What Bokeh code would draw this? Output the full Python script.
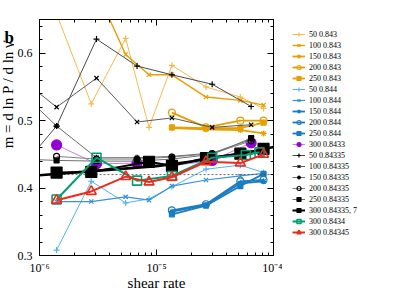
import math
from bokeh.plotting import figure
from bokeh.layouts import row
from bokeh.models import (Legend, LegendItem, Label, LogAxis, LinearAxis,
                          LogTicker, SingleIntervalTicker, CustomJSTickFormatter)
from bokeh.embed import file_html
from bokeh.resources import INLINE

# ---------------- data ----------------
XA = [1.4e-6, 2.77e-6, 5.45e-6, 8.63e-6, 1.355e-5, 2.65e-5, 5.21e-5, 8.22e-5]
XG = [7.0e-7, 1.4e-6, 3.07e-6, 6.82e-6, 1.355e-5, 2.99e-5, 6.44e-5]
XH = [1.355e-5, 2.65e-5, 5.21e-5, 8.22e-5]
XB = [1.4e-6, 2.77e-6, 8.63e-6, 1.355e-5, 2.65e-5, 5.21e-5, 8.22e-5]
XGR = [1.4e-6, 3.07e-6, 6.82e-6, 1.355e-5, 2.99e-5, 5.8e-5, 7.6e-5]
XFIT = [1e-6, 3e-6, 1e-5, 2e-5, 4e-5, 7e-5, 1e-4]
XREF = [1e-6, 1e-4]

y_50_843 = [0.658, 0.525, 0.622, 0.490, 0.582, 0.550, 0.535, 0.518]
y_100_843 = [0.710, 0.598, 0.568, 0.568, 0.535, 0.530, 0.523]
y_150_843 = [0.489, 0.487, 0.486, 0.481]
y_200_843 = [0.512, 0.490, 0.500, 0.500]
y_250_843 = [0.490, 0.489, 0.489, 0.497]
y_50_844 = [0.308, 0.410, 0.378, 0.384, 0.402, 0.428, 0.434, 0.423]
y_100_844 = [0.380, 0.380, 0.387, 0.382, 0.403, 0.412, 0.418, 0.422]
y_150_844 = [0.365, 0.375, 0.407, 0.410]
y_200_844 = [0.367, 0.376, 0.410, 0.412]
y_250_844 = [0.361, 0.374, 0.403, 0.421]
y_300_8433 = [0.464, 0.436, 0.437, 0.433, 0.441, 0.467]
y_50_84335 = [0.430, 0.492, 0.621, 0.581, 0.568, 0.554, 0.521]
y_100_84335 = [0.562, 0.520, 0.563, 0.498, 0.504, 0.490, 0.494]
y_150_84335 = [0.542, 0.492, 0.445, 0.445, 0.447, 0.452, 0.472]
y_200_84335 = [0.447, 0.443, 0.443, 0.446, 0.451, 0.470]
y_250_84335 = [0.443, 0.441, 0.440, 0.440, 0.443, 0.450, 0.474]
y_300_84335 = [0.423, 0.424, 0.439, 0.433, 0.4445, 0.451, 0.458]
y_fit = [0.419, 0.4255, 0.4325, 0.4395, 0.448, 0.455, 0.461]
y_300_8434 = [0.383, 0.445, 0.411, 0.418, 0.445, 0.449, 0.453]
y_300_84345 = [0.382, 0.395, 0.417, 0.409, 0.416, 0.439, 0.437, 0.450]
y_ref = [0.42, 0.42]

SERIF = "Liberation Serif"
OR_L, OR = "#f4b94c", "#e69f00"
BL_L, BL_M, BL = "#56b4e9", "#3a92d8", "#1a7cc1"
H = 295


def bare(width):
    f = figure(width=width, height=H, x_range=(0, 1), y_range=(0, 1),
               title=None, output_backend="svg", toolbar_location=None,
               x_axis_location=None, y_axis_location=None,
               min_border_left=0, min_border_right=0, min_border_top=0,
               min_border_bottom=0)
    f.grid.visible = False
    f.outline_line_color = None
    return f


# ---- left strip: panel letter and y-axis title ----
lf = bare(14)
lf.add_layout(Label(x=4, y=-27, x_units="screen", y_units="screen", text="b",
                    text_font=SERIF, text_font_style="bold", text_font_size="17px",
                    text_color="black"), "above")
lf.add_layout(Label(x=7, y=161, x_units="screen", y_units="screen",
                    text="m = d ln P / d ln \u03b3\u0307", angle=math.pi / 2,
                    text_align="center", text_baseline="middle",
                    text_font=SERIF, text_font_size="15px", text_color="black"))

# ---- main plot ----
p = figure(width=268, height=H, x_axis_type="log",
           x_range=(1e-6, 1e-4), y_range=(0.3, 0.65),
           output_backend="svg", toolbar_location=None,
           min_border_left=24, min_border_right=9,
           min_border_top=14, min_border_bottom=40)
p.grid.visible = False
p.outline_line_color = "black"
p.outline_line_width = 1
p.background_fill_color = "white"

fmt = CustomJSTickFormatter(code="""
const e = Math.round(Math.log10(tick));
const sup = {'-':'\u207b','0':'\u2070','1':'\u00b9','2':'\u00b2','3':'\u00b3','4':'\u2074','5':'\u2075','6':'\u2076','7':'\u2077','8':'\u2078','9':'\u2079'};
return '10' + String(e).split('').map(c => sup[c]).join('');
""")
blank = CustomJSTickFormatter(code="return ''")

xa = p.xaxis[0]
xa.ticker = LogTicker(num_minor_ticks=10)
xa.formatter = fmt
ya = p.yaxis[0]
ya.ticker = SingleIntervalTicker(interval=0.1, num_minor_ticks=5)

xtop = LogAxis(ticker=LogTicker(num_minor_ticks=10), formatter=blank)
yright = LinearAxis(ticker=SingleIntervalTicker(interval=0.1, num_minor_ticks=5),
                    formatter=blank)
for ax in (xtop, yright):
    ax.major_label_text_font_size = "1px"
    ax.major_label_standoff = 0
p.add_layout(xtop, "above")
p.add_layout(yright, "right")

for ax in (xa, ya, xtop, yright):
    ax.major_tick_in = 6
    ax.major_tick_out = 0
    ax.minor_tick_in = 3
    ax.minor_tick_out = 0
    ax.axis_line_color = "black"
    ax.major_tick_line_color = "black"
    ax.minor_tick_line_color = "black"
for ax in (xa, ya):
    ax.major_label_text_font = SERIF
    ax.major_label_text_font_size = "12px"
    ax.major_label_text_color = "black"
    ax.axis_label_text_font = SERIF
    ax.axis_label_text_font_size = "15px"
    ax.axis_label_text_font_style = "normal"
    ax.axis_label_text_color = "black"
xa.axis_label = "shear rate"
xa.major_label_standoff = 5
xa.axis_label_standoff = -3
ya.major_label_standoff = 7

series = [
    ("50 0.843", XA, y_50_843, OR_L, 1.0, "cross", 6, True),
    ("100 0.843", XA[1:], y_100_843, OR, 1.4, "x", 6, True),
    ("150 0.843", XH, y_150_843, OR, 1.8, "asterisk", 6, True),
    ("200 0.843", XH, y_200_843, OR, 1.8, "circle", 7, False),
    ("250 0.843", XH, y_250_843, OR, 1.8, "square", 5, True),
    ("50 0.844", XA, y_50_844, BL_L, 1.0, "cross", 6, True),
    ("100 0.844", XA, y_100_844, BL_M, 1.2, "x", 6, True),
    ("150 0.844", XH, y_150_844, BL, 1.8, "asterisk", 6, True),
    ("200 0.844", XH, y_200_844, BL, 1.8, "circle", 7, False),
    ("250 0.844", XH, y_250_844, BL, 1.8, "square", 5, True),
    ("300 0.8433", XG[1:], y_300_8433, "#c77ee8", 1.0, "circle", 10, True, "#9400d3"),
    ("50 0.84335", XG, y_50_84335, "#4a4a4a", 1.0, "cross", 6, True, "black"),
    ("100 0.84335", XG, y_100_84335, "#5a5a5a", 1.0, "x", 6, True, "black"),
    ("150 0.84335", XG, y_150_84335, "#6a6a6a", 1.0, "asterisk", 6, True, "black"),
    ("200 0.84335", XG[1:], y_200_84335, "#808080", 1.0, "circle", 6, False, "black"),
    ("250 0.84335", XG, y_250_84335, "#707070", 1.0, "square", 5, True, "black"),
    ("300 0.84335, 7", XB, y_300_84335, "black", 2.0, "square", 11, True),
    ("300 0.8434", XGR, y_300_8434, "#009e73", 2.0, "square", 9, False, None, 1.6),
    ("300 0.84345", XA, y_300_84345, "#ee2a1b", 2.0, "triangle", 10, False, None, 1.6),
]

# ---- right strip: legend (proxy glyphs lie outside its ranges) ----
lg = bare(103)
PROXY_X, PROXY_Y = [5.0, 6.0], [5.0, 6.0]


def draw(fig, xs, ys, color, lw, marker, size, filled, mcolor=None, mlw=1.2):
    mc = mcolor or color
    r1 = fig.line(xs, ys, line_color=color, line_width=lw)
    kw = dict(fill_color=mc) if filled else dict(fill_alpha=0)
    r2 = fig.scatter(xs, ys, marker=marker, size=size, line_color=mc,
                     line_width=mlw, **kw)
    return [r1, r2]


def series_draw(s, fig, xs, ys):
    label, _, _, color, lw, marker, size, filled, *rest = s
    return draw(fig, xs, ys, color, lw, marker, size, filled, *rest)


items = []
n_thin = 16
for i, s in enumerate(series):
    if i == n_thin:
        p.line(XREF, y_ref, line_color="#444444", line_width=0.8, line_dash="2 2")
        p.line(XFIT, y_fit, line_color="black", line_width=2.6)
    series_draw(s, p, s[1], s[2])
    items.append(LegendItem(label=s[0], renderers=series_draw(s, lg, PROXY_X, PROXY_Y)))

legend = Legend(items=items, location="top_left")
legend.label_text_font = SERIF
legend.label_text_font_size = "8px"
legend.label_text_color = "black"
legend.label_height = 10
legend.glyph_height = 10
legend.glyph_width = 13
legend.label_standoff = 4
legend.spacing = 1
legend.padding = 10
legend.margin = 0
legend.border_line_alpha = 0
legend.background_fill_alpha = 0
lg.add_layout(legend)

open("out.html", "w").write(file_html(row(lf, p, lg), INLINE))
